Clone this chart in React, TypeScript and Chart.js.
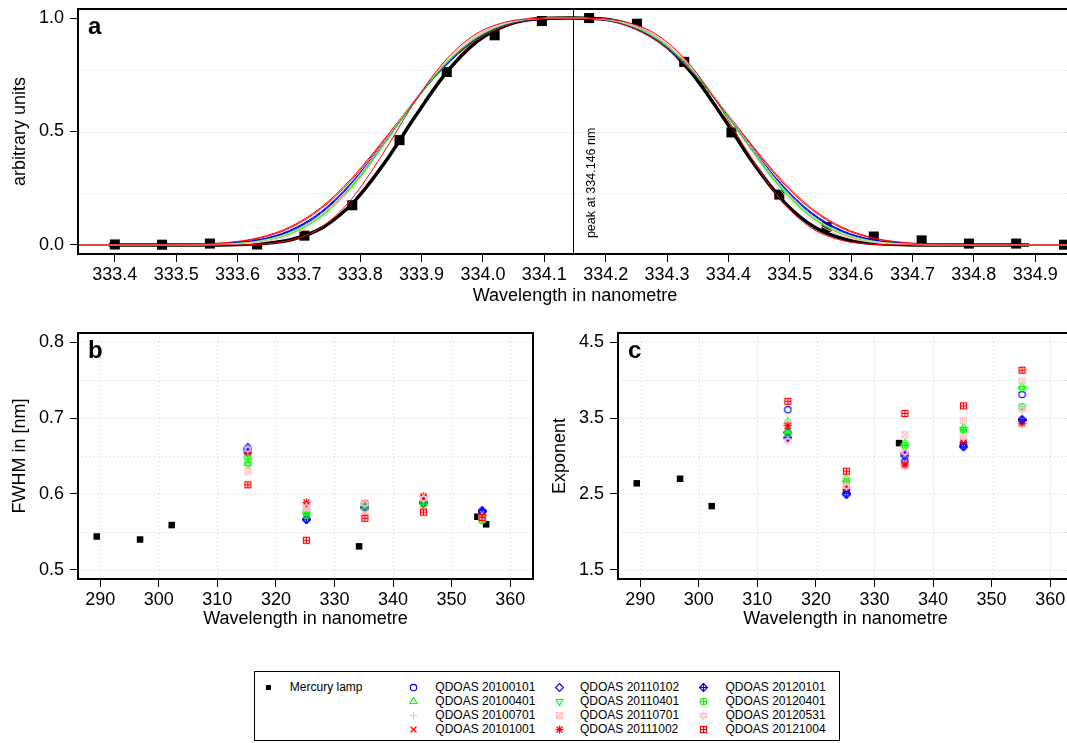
import React, { useEffect, useMemo, useRef } from 'react';
import { Chart, registerables } from 'chart.js';

Chart.register(...registerables);

const FONT = "'Liberation Sans', Arial, Helvetica, sans-serif";
const BLUE = '#0000ff';
const GREEN = '#00ff00';
const PINK = '#ffc0cb';
const RED = '#ff0000';

/* ---------- (a) normalised slit function at the 334.15 nm mercury line ---------- */

// lamp spectrum, one value per detector pixel
const lampPixelWl = [333.400, 333.477, 333.555, 333.632, 333.709, 333.787, 333.864, 333.941, 334.019, 334.096, 334.173, 334.251, 334.328, 334.405, 334.483, 334.560, 334.637, 334.715, 334.792, 334.869, 334.947];
const lampPixelSignal = [0.002, 0.001, 0.006, 0.002, 0.041, 0.175, 0.462, 0.762, 0.924, 0.987, 1.000, 0.975, 0.807, 0.496, 0.222, 0.079, 0.037, 0.020, 0.006, 0.006, 0.001];

// fitted lamp slit function
const lampFitWl = [333.39, 333.44, 333.49, 333.54, 333.59, 333.64, 333.69, 333.74, 333.79, 333.84, 333.89, 333.94, 333.99, 334.04, 334.09, 334.14, 334.19, 334.24, 334.29, 334.34, 334.39, 334.44, 334.49, 334.54, 334.59, 334.64, 334.69, 334.74, 334.79, 334.84, 334.89];
const lampFit = [0, 0, 0, 0, 0.001, 0.006, 0.025, 0.079, 0.191, 0.363, 0.568, 0.758, 0.896, 0.970, 0.997, 1, 0.997, 0.970, 0.896, 0.758, 0.568, 0.363, 0.191, 0.079, 0.025, 0.006, 0.001, 0, 0, 0, 0];

// QDOAS slit functions, all sampled on the same wavelength grid
const qdoasWl = [333.335, 333.385, 333.435, 333.485, 333.535, 333.585, 333.635, 333.685, 333.735, 333.785, 333.835, 333.885, 333.935, 333.985, 334.035, 334.085, 334.135, 334.185, 334.235, 334.285, 334.335, 334.385, 334.435, 334.485, 334.535, 334.585, 334.635, 334.685, 334.735, 334.785, 334.835, 334.885, 334.935, 334.985];
const profile20100101 = [0, 0, 0, 0, 0.001, 0.006, 0.022, 0.062, 0.141, 0.270, 0.438, 0.620, 0.783, 0.902, 0.970, 0.996, 1, 0.996, 0.970, 0.902, 0.783, 0.620, 0.438, 0.270, 0.141, 0.062, 0.022, 0.006, 0.001, 0, 0, 0, 0, 0];
const profile20100401 = [0, 0, 0, 0, 0.001, 0.004, 0.016, 0.051, 0.126, 0.254, 0.428, 0.617, 0.785, 0.906, 0.972, 0.997, 1, 0.997, 0.972, 0.906, 0.785, 0.617, 0.428, 0.254, 0.126, 0.051, 0.016, 0.004, 0.001, 0, 0, 0, 0, 0];
const profile20100701 = [0, 0, 0, 0, 0, 0.003, 0.014, 0.047, 0.123, 0.255, 0.434, 0.628, 0.796, 0.913, 0.976, 0.997, 1, 0.997, 0.976, 0.913, 0.796, 0.628, 0.434, 0.255, 0.123, 0.047, 0.014, 0.003, 0, 0, 0, 0, 0, 0];
const profile20101001 = [0, 0, 0, 0.001, 0.002, 0.009, 0.029, 0.074, 0.157, 0.284, 0.447, 0.623, 0.780, 0.898, 0.967, 0.996, 1, 0.996, 0.967, 0.898, 0.780, 0.623, 0.447, 0.284, 0.157, 0.074, 0.029, 0.009, 0.002, 0.001, 0, 0, 0, 0];
const profile20110102 = [0, 0, 0, 0, 0.001, 0.005, 0.020, 0.059, 0.137, 0.266, 0.436, 0.622, 0.786, 0.904, 0.971, 0.996, 1, 0.996, 0.971, 0.904, 0.786, 0.622, 0.436, 0.266, 0.137, 0.059, 0.020, 0.005, 0.001, 0, 0, 0, 0, 0];
const profile20110401 = [0, 0, 0, 0, 0.001, 0.003, 0.015, 0.048, 0.122, 0.250, 0.426, 0.618, 0.788, 0.908, 0.973, 0.997, 1, 0.997, 0.973, 0.908, 0.788, 0.618, 0.426, 0.250, 0.122, 0.048, 0.015, 0.003, 0.001, 0, 0, 0, 0, 0];
const profile20110701 = [0, 0, 0, 0, 0, 0.002, 0.011, 0.040, 0.112, 0.241, 0.424, 0.626, 0.799, 0.918, 0.979, 0.998, 1, 0.998, 0.979, 0.918, 0.799, 0.626, 0.424, 0.241, 0.112, 0.040, 0.011, 0.002, 0, 0, 0, 0, 0, 0];
const profile20111002 = [0, 0, 0, 0.001, 0.003, 0.011, 0.032, 0.079, 0.163, 0.291, 0.452, 0.624, 0.778, 0.895, 0.965, 0.995, 1, 0.995, 0.965, 0.895, 0.778, 0.624, 0.452, 0.291, 0.163, 0.079, 0.032, 0.011, 0.003, 0.001, 0, 0, 0, 0];
const profile20120101 = [0, 0, 0, 0, 0.002, 0.007, 0.023, 0.064, 0.144, 0.273, 0.440, 0.620, 0.781, 0.900, 0.969, 0.996, 1, 0.996, 0.969, 0.900, 0.781, 0.620, 0.440, 0.273, 0.144, 0.064, 0.023, 0.007, 0.002, 0, 0, 0, 0, 0];
const profile20120401 = [0, 0, 0, 0, 0.001, 0.005, 0.018, 0.054, 0.130, 0.258, 0.431, 0.618, 0.784, 0.904, 0.971, 0.997, 1, 0.997, 0.971, 0.904, 0.784, 0.618, 0.431, 0.258, 0.130, 0.054, 0.018, 0.005, 0.001, 0, 0, 0, 0, 0];
const profile20120531 = [0, 0, 0, 0, 0.001, 0.004, 0.016, 0.052, 0.130, 0.263, 0.439, 0.628, 0.793, 0.910, 0.974, 0.997, 1, 0.997, 0.974, 0.910, 0.793, 0.628, 0.439, 0.263, 0.130, 0.052, 0.016, 0.004, 0.001, 0, 0, 0, 0, 0];
const profile20121004 = [0, 0, 0, 0, 0, 0, 0.003, 0.020, 0.075, 0.200, 0.394, 0.614, 0.802, 0.924, 0.981, 0.998, 1, 0.998, 0.981, 0.924, 0.802, 0.614, 0.394, 0.200, 0.075, 0.020, 0.003, 0, 0, 0, 0, 0, 0, 0];

const peakWl = 334.146;

/* ---------- (b) FWHM and (c) exponent of the fitted slit functions ---------- */

const lampLineWl = [289.4, 296.8, 302.2, 334.2, 354.4, 355.9];
const lampLineFwhm = [0.544, 0.540, 0.559, 0.531, 0.570, 0.560];
const lampExpWl = [289.4, 296.8, 302.2, 334.2];
const lampLineExponent = [2.64, 2.70, 2.34, 3.17];

// centre wavelengths of the QDOAS fitting windows
const windowWl = [315.2, 325.2, 335.2, 345.2, 355.2];

const fwhm20100101 = [0.655, 0.578, 0.583, 0.590, 0.576];
const fwhm20100401 = [0.640, 0.576, 0.582, 0.591, 0.570];
const fwhm20100701 = [0.652, 0.584, 0.578, 0.584, 0.568];
const fwhm20101001 = [0.656, 0.585, 0.585, 0.595, 0.571];
const fwhm20110102 = [0.661, 0.567, 0.582, 0.589, 0.577];
const fwhm20110401 = [0.639, 0.574, 0.580, 0.589, 0.568];
const fwhm20110701 = [0.630, 0.581, 0.577, 0.582, 0.567];
const fwhm20111002 = [0.654, 0.589, 0.588, 0.597, 0.572];
const fwhm20120101 = [0.658, 0.566, 0.583, 0.588, 0.578];
const fwhm20120401 = [0.647, 0.572, 0.584, 0.587, 0.565];
const fwhm20120531 = [0.659, 0.583, 0.587, 0.594, 0.570];
const fwhm20121004 = [0.612, 0.539, 0.568, 0.576, 0.569];

const exponent20100101 = [3.61, 2.55, 2.93, 3.16, 3.81];
const exponent20100401 = [3.45, 2.70, 3.17, 3.38, 3.91];
const exponent20100701 = [3.22, 2.59, 3.02, 3.21, 3.60];
const exponent20101001 = [3.39, 2.57, 2.90, 3.17, 3.45];
const exponent20110102 = [3.31, 2.49, 3.00, 3.13, 3.47];
const exponent20110401 = [3.29, 2.68, 3.12, 3.35, 3.89];
const exponent20110701 = [3.44, 2.71, 3.28, 3.47, 3.99];
const exponent20111002 = [3.40, 2.58, 2.88, 3.18, 3.43];
const exponent20120101 = [3.24, 2.51, 3.03, 3.12, 3.48];
const exponent20120401 = [3.30, 2.66, 3.14, 3.34, 3.65];
const exponent20120531 = [3.20, 2.60, 3.05, 3.25, 3.62];
const exponent20121004 = [3.72, 2.80, 3.56, 3.66, 4.13];

/* ---------- axes ---------- */

const aTicksX = [333.4, 333.5, 333.6, 333.7, 333.8, 333.9, 334.0, 334.1, 334.2, 334.3, 334.4, 334.5, 334.6, 334.7, 334.8, 334.9];
const aTicksY = [0, 0.5, 1];
const aGridY = [0.23, 0.5, 0.77];
const wlTicks = [290, 300, 310, 320, 330, 340, 350, 360];
const bTicksY = [0.5, 0.6, 0.7, 0.8];
const bGridY = [0.5, 0.55, 0.6, 0.65, 0.7, 0.75, 0.8];
const cTicksY = [1.5, 2.5, 3.5, 4.5];
const cGridY = [1.5, 2, 2.5, 3, 3.5, 4, 4.5];

type Series = { label: string; color: string; marker: string; profile: number[]; fwhm: number[]; exponent: number[] };

const SERIES: Series[] = [
  { label: 'QDOAS 20100101', color: BLUE, marker: 'circle', profile: profile20100101, fwhm: fwhm20100101, exponent: exponent20100101 },
  { label: 'QDOAS 20100401', color: GREEN, marker: 'triUp', profile: profile20100401, fwhm: fwhm20100401, exponent: exponent20100401 },
  { label: 'QDOAS 20100701', color: PINK, marker: 'plus', profile: profile20100701, fwhm: fwhm20100701, exponent: exponent20100701 },
  { label: 'QDOAS 20101001', color: RED, marker: 'cross', profile: profile20101001, fwhm: fwhm20101001, exponent: exponent20101001 },
  { label: 'QDOAS 20110102', color: BLUE, marker: 'diamond', profile: profile20110102, fwhm: fwhm20110102, exponent: exponent20110102 },
  { label: 'QDOAS 20110401', color: GREEN, marker: 'triDown', profile: profile20110401, fwhm: fwhm20110401, exponent: exponent20110401 },
  { label: 'QDOAS 20110701', color: PINK, marker: 'squareCross', profile: profile20110701, fwhm: fwhm20110701, exponent: exponent20110701 },
  { label: 'QDOAS 20111002', color: RED, marker: 'asterisk', profile: profile20111002, fwhm: fwhm20111002, exponent: exponent20111002 },
  { label: 'QDOAS 20120101', color: BLUE, marker: 'diamondPlus', profile: profile20120101, fwhm: fwhm20120101, exponent: exponent20120101 },
  { label: 'QDOAS 20120401', color: GREEN, marker: 'circlePlus', profile: profile20120401, fwhm: fwhm20120401, exponent: exponent20120401 },
  { label: 'QDOAS 20120531', color: PINK, marker: 'star6', profile: profile20120531, fwhm: fwhm20120531, exponent: exponent20120531 },
  { label: 'QDOAS 20121004', color: RED, marker: 'squarePlus', profile: profile20121004, fwhm: fwhm20121004, exponent: exponent20121004 },
];

/* ---------- plotting symbols (R-style pch glyphs) ---------- */

function drawMarker(kind: string, color: string, size = 9): HTMLCanvasElement {
  const c = document.createElement('canvas');
  c.width = size;
  c.height = size;
  const g = c.getContext('2d')!;
  const m = size / 2;
  g.strokeStyle = color;
  g.fillStyle = color;
  g.lineWidth = 1.15;
  const line = (x1: number, y1: number, x2: number, y2: number) => {
    g.beginPath(); g.moveTo(x1, y1); g.lineTo(x2, y2); g.stroke();
  };
  const circle = (r: number) => { g.beginPath(); g.arc(m, m, r, 0, Math.PI * 2); g.stroke(); };
  const tri = (dir: number) => {
    const R = 4;
    g.beginPath();
    g.moveTo(m, m - dir * R);
    g.lineTo(m + R * 0.866, m + dir * R * 0.5);
    g.lineTo(m - R * 0.866, m + dir * R * 0.5);
    g.closePath();
    g.stroke();
  };
  const plus = (e: number) => { line(m - e, m, m + e, m); line(m, m - e, m, m + e); };
  const cross = (e: number) => { line(m - e, m - e, m + e, m + e); line(m - e, m + e, m + e, m - e); };
  const square = (h: number) => g.strokeRect(m - h, m - h, 2 * h, 2 * h);
  const diamond = (R: number) => {
    g.beginPath(); g.moveTo(m, m - R); g.lineTo(m + R, m); g.lineTo(m, m + R); g.lineTo(m - R, m); g.closePath(); g.stroke();
  };
  switch (kind) {
    case 'circle': circle(3.2); break;
    case 'triUp': tri(1); break;
    case 'plus': plus(4); break;
    case 'cross': cross(3); break;
    case 'diamond': diamond(4); break;
    case 'triDown': tri(-1); break;
    case 'squareCross': square(3); cross(3); break;
    case 'asterisk': plus(4); cross(3); break;
    case 'diamondPlus': diamond(4); plus(4); break;
    case 'circlePlus': circle(3.2); plus(3.2); break;
    case 'star6': tri(1); tri(-1); break;
    case 'squarePlus': square(3); plus(3); break;
    case 'filledSquare': g.fillRect(m - 2.5, m - 2.5, 5, 5); break;
  }
  return c;
}

let markerCache: HTMLCanvasElement[] | null = null;
function seriesMarkers(): HTMLCanvasElement[] {
  if (!markerCache) markerCache = SERIES.map((s) => drawMarker(s.marker, s.color));
  return markerCache;
}

/* ---------- chart helpers ---------- */

function framePlugin(opts: { letter: string; gridX?: number[]; gridY?: number[]; peak?: number }) {
  return {
    id: 'frame' + opts.letter,
    beforeDatasetsDraw(chart: any) {
      const { ctx, chartArea: a } = chart;
      const sx = chart.scales.x;
      const sy = chart.scales.y;
      ctx.save();
      ctx.beginPath();
      ctx.rect(a.left, a.top, a.right - a.left, a.bottom - a.top);
      ctx.clip();
      ctx.strokeStyle = '#d3d3d3';
      ctx.lineWidth = 1;
      ctx.setLineDash([1, 3]);
      (opts.gridX || []).forEach((v) => {
        const p = Math.round(sx.getPixelForValue(v)) + 0.5;
        ctx.beginPath(); ctx.moveTo(p, a.top); ctx.lineTo(p, a.bottom); ctx.stroke();
      });
      (opts.gridY || []).forEach((v) => {
        const p = Math.round(sy.getPixelForValue(v)) + 0.5;
        ctx.beginPath(); ctx.moveTo(a.left, p); ctx.lineTo(a.right, p); ctx.stroke();
      });
      ctx.setLineDash([]);
      if (opts.peak !== undefined) {
        const p = Math.round(sx.getPixelForValue(opts.peak)) + 0.5;
        ctx.strokeStyle = '#000';
        ctx.beginPath(); ctx.moveTo(p, a.top); ctx.lineTo(p, a.bottom); ctx.stroke();
        ctx.translate(p + 18, sy.getPixelForValue(0.03));
        ctx.rotate(-Math.PI / 2);
        ctx.fillStyle = '#000';
        ctx.font = `12.5px ${FONT}`;
        ctx.textAlign = 'left';
        ctx.textBaseline = 'middle';
        ctx.fillText(`peak at ${opts.peak.toFixed(3)} nm`, 0, 0);
      }
      ctx.restore();
    },
    afterDatasetsDraw(chart: any) {
      const { ctx, chartArea: a } = chart;
      ctx.save();
      ctx.strokeStyle = '#000';
      ctx.lineWidth = 2;
      ctx.strokeRect(a.left, a.top, a.right - a.left, a.bottom - a.top);
      ctx.fillStyle = '#000';
      ctx.font = `bold 24px ${FONT}`;
      ctx.textAlign = 'left';
      ctx.textBaseline = 'alphabetic';
      ctx.fillText(opts.letter, a.left + 10, a.top + 25);
      ctx.restore();
    },
  };
}

const tickFont = { family: FONT, size: 18 };
const tickGrid = { display: true, drawOnChartArea: false, drawTicks: true, tickLength: 8, color: '#000', lineWidth: 1 };

function xAxis(min: number, max: number, ticks: number[], digits: number, height: number, titlePad: number) {
  return {
    type: 'linear', min, max,
    afterBuildTicks: (s: any) => { s.ticks = ticks.map((v) => ({ value: v })); },
    afterFit: (s: any) => {
      s.height = height; s.paddingLeft = 0; s.paddingRight = 0; s.paddingTop = 0; s.paddingBottom = 0;
    },
    ticks: {
      autoSkip: false, maxRotation: 0, minRotation: 0, padding: 2, color: '#000', font: tickFont,
      callback: (v: any) => Number(v).toFixed(digits),
    },
    grid: tickGrid,
    border: { display: false },
    title: { display: true, text: 'Wavelength in nanometre', color: '#000', font: tickFont, padding: { top: 0, bottom: titlePad } },
  };
}

function yAxis(min: number, max: number, ticks: number[], digits: number, title: string) {
  return {
    type: 'linear', min, max,
    afterBuildTicks: (s: any) => { s.ticks = ticks.map((v) => ({ value: v })); },
    afterFit: (s: any) => {
      s.width = 78; s.paddingLeft = 0; s.paddingRight = 0; s.paddingTop = 0; s.paddingBottom = 0;
    },
    ticks: { padding: 6, color: '#000', font: tickFont, callback: (v: any) => Number(v).toFixed(digits) },
    grid: tickGrid,
    border: { display: false },
    title: { display: true, text: title, color: '#000', font: tickFont, padding: { top: 9, bottom: 0 } },
  };
}

const xy = (xs: number[], ys: number[]) => xs.map((x, i) => ({ x, y: ys[i] }));

function commonOptions(padding: any) {
  return {
    animation: false, responsive: false, maintainAspectRatio: false, devicePixelRatio: 1, events: [],
    layout: { padding },
    plugins: { legend: { display: false }, tooltip: { enabled: false } },
  };
}

function buildProfileChart(): any {
  // lower `order` is painted later: fit line first, lamp pixels over it, QDOAS curves on top
  const datasets: any[] = [
    {
      label: 'Mercury lamp', data: xy(lampPixelWl, lampPixelSignal), showLine: false,
      pointStyle: 'rect', pointRadius: 7.1, pointBackgroundColor: '#000', pointBorderWidth: 0, order: 15,
    },
  ];
  SERIES.forEach((s, i) => {
    datasets.push({
      label: s.label, data: xy(qdoasWl, s.profile), borderColor: s.color, borderWidth: 1,
      pointRadius: 0, tension: 0.4, cubicInterpolationMode: 'monotone', fill: false, order: 13 - i,
    });
  });
  datasets.push({
    label: 'Mercury lamp fit', data: xy(lampFitWl, lampFit), borderColor: '#000', borderWidth: 3.5,
    pointRadius: 0, tension: 0.4, cubicInterpolationMode: 'monotone', fill: false, order: 20,
  });
  return {
    type: 'line',
    data: { datasets },
    options: {
      ...commonOptions({ left: 0, top: 9, right: 38, bottom: 0 }),
      scales: {
        x: xAxis(333.34, 334.96, aTicksX, 1, 56, 3),
        y: yAxis(-0.04, 1.04, aTicksY, 1, 'arbitrary units'),
      },
    },
    plugins: [framePlugin({ letter: 'a', gridY: aGridY, peak: peakWl })],
  };
}

function buildScatterChart(kind: 'fwhm' | 'exponent'): any {
  const markers = seriesMarkers();
  const isF = kind === 'fwhm';
  const datasets: any[] = [
    {
      label: 'Mercury lamp',
      data: isF ? xy(lampLineWl, lampLineFwhm) : xy(lampExpWl, lampLineExponent),
      showLine: false, pointStyle: 'rect', pointRadius: 4.6, pointBackgroundColor: '#000', pointBorderWidth: 0, order: 100,
    },
  ];
  SERIES.forEach((s, i) => {
    datasets.push({
      label: s.label, data: xy(windowWl, isF ? s.fwhm : s.exponent), showLine: false,
      pointStyle: markers[i], pointRadius: 4, order: 13 - i,
    });
  });
  return {
    type: 'line',
    data: { datasets },
    options: {
      ...commonOptions({ left: 0, top: 13, right: 7, bottom: 0 }),
      scales: {
        x: xAxis(286.2, 363.9, wlTicks, 0, 51, 0),
        y: isF
          ? yAxis(0.488, 0.812, bTicksY, 1, 'FWHM in [nm]')
          : yAxis(1.38, 4.62, cTicksY, 1, 'Exponent'),
      },
    },
    plugins: [framePlugin({ letter: isF ? 'b' : 'c', gridX: wlTicks, gridY: isF ? bGridY : cGridY })],
  };
}

function ChartCanvas(props: { build: () => any; left: number; top: number; width: number; height: number }) {
  const ref = useRef<HTMLCanvasElement>(null);
  useEffect(() => {
    const chart = new Chart(ref.current as HTMLCanvasElement, props.build());
    return () => chart.destroy();
  }, []);
  return (
    <canvas
      ref={ref}
      width={props.width}
      height={props.height}
      style={{ position: 'absolute', left: props.left, top: props.top, width: props.width, height: props.height }}
    />
  );
}

/* ---------- shared legend ---------- */

const legendRows = [15, 29, 43, 57];
const legendSymbolX = [158, 304.4, 448.7];
const legendTextX = [180.3, 325, 470.5];

function Legend() {
  const icons = useMemo(() => seriesMarkers().map((c) => c.toDataURL()), []);
  const lampIcon = useMemo(() => drawMarker('filledSquare', '#000').toDataURL(), []);
  const textStyle = (left: number, cy: number): React.CSSProperties => ({
    position: 'absolute', left, top: cy - 7, lineHeight: '14px', fontSize: 12, whiteSpace: 'nowrap', color: '#000',
  });
  const iconStyle = (cx: number, cy: number): React.CSSProperties => ({
    position: 'absolute', left: cx - 4.5, top: cy - 4.5, width: 9, height: 9,
  });
  return (
    <div
      style={{
        position: 'absolute', left: 254, top: 671, width: 586, height: 70, boxSizing: 'border-box',
        border: '1px solid #000', fontFamily: FONT, background: '#fff',
      }}
    >
      <img src={lampIcon} style={iconStyle(13.8, legendRows[0])} />
      <span style={textStyle(34.8, legendRows[0])}>Mercury lamp</span>
      {SERIES.map((s, i) => {
        const col = Math.floor(i / 4);
        const row = i % 4;
        return (
          <React.Fragment key={s.label}>
            <img src={icons[i]} style={iconStyle(legendSymbolX[col], legendRows[row])} />
            <span style={textStyle(legendTextX[col], legendRows[row])}>{s.label}</span>
          </React.Fragment>
        );
      })}
    </div>
  );
}

export default function App() {
  return (
    <div
      style={{
        position: 'fixed', left: 0, top: 0, width: 1067, height: 743, overflow: 'hidden', background: '#fff',
      }}
    >
      <ChartCanvas build={buildProfileChart} left={0} top={0} width={1110} height={310} />
      <ChartCanvas build={() => buildScatterChart('fwhm')} left={0} top={320} width={540} height={310} />
      <ChartCanvas build={() => buildScatterChart('exponent')} left={540} top={320} width={540} height={310} />
      <Legend />
    </div>
  );
}
